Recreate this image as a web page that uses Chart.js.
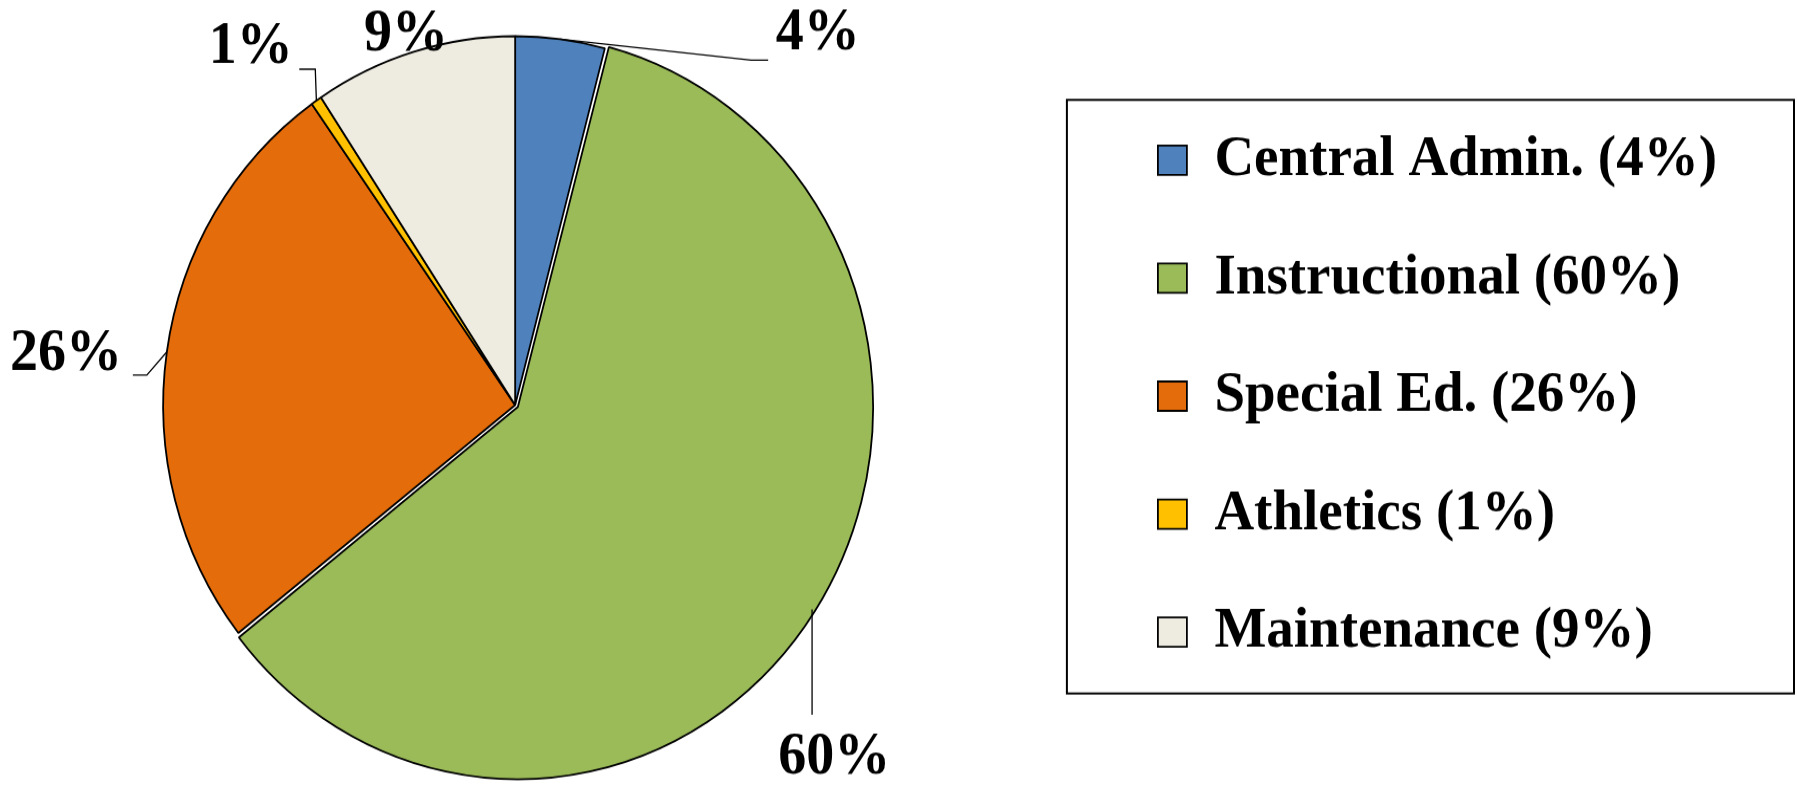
<!DOCTYPE html>
<html lang="en">
<head>
  <meta charset="UTF-8">
  <title>Budget share by category</title>
  <script src="https://cdn.jsdelivr.net/npm/chart.js"></script>
  <style>
    html, body {
      margin: 0;
      padding: 0;
      background: white;
      overflow: hidden;
    }
    body {
      width: 1797px;
      height: 785px;
      position: relative;
    }
    /* the source picture is slightly stretched vertically */
    .wrap {
      position: absolute;
      left: -71px;
      top: 0;
      width: 1868px;
      height: 749px;
      transform: scaleY(1.048);
      transform-origin: 0 0;
    }
  </style>
</head>
<body>
  <div class="wrap">
    <canvas id="pieChart"></canvas>
  </div>

  <script>
    // data
    const categories = ['Central Admin.', 'Instructional', 'Special Ed.', 'Athletics', 'Maintenance'];
    const shares = [4.1, 60.3, 25.8, 0.5, 9.3];
    const pctText = shares.map(v => Math.round(v) + '%');
    const legendText = categories.map((c, i) => c + ' (' + pctText[i] + ')');

    const sliceColors = ['#4F81BD', '#9BBB59', '#E46C0A', '#FFC000', '#EEECE1'];

    // label placement relative to the middle of each slice's outer edge
    const labelLayout = [
      { elbow: [190.8, 19.9], tail: 17, text: [257.3, -5] },
      { elbow: [0, 100.5], tail: 0, text: [22.3, 141.6] },
      { elbow: [-20, 22.1], tail: -14, text: [-100.7, 3] },
      { elbow: [-1.1, -30], tail: -16, text: [-65.6, -50.3] },
      { elbow: null, tail: 0, text: [-7.8, -16] }
    ];

    const labelFont = 'bold 56px "Liberation Serif", "Times New Roman", serif';

    const pieLabels = {
      id: 'pieLabels',
      afterDatasetsDraw(chart) {
        const ctx = chart.ctx;
        const meta = chart.getDatasetMeta(0);
        const offsets = chart.data.datasets[0].offset;
        ctx.save();
        ctx.strokeStyle = '#000';
        ctx.lineWidth = 1.3;
        ctx.fillStyle = '#000';
        ctx.font = labelFont;
        ctx.textAlign = 'center';
        ctx.textBaseline = 'middle';
        meta.data.forEach((arc, i) => {
          const p = arc.getProps(['x', 'y', 'startAngle', 'endAngle', 'outerRadius'], true);
          const mid = (p.startAngle + p.endAngle) / 2;
          // arcs are shifted by a quarter of their offset option
          const r = p.outerRadius + (offsets[i] || 0) / 4;
          const ax = p.x + Math.cos(mid) * r;
          const ay = p.y + Math.sin(mid) * r;
          const lay = labelLayout[i];
          if (lay.elbow) {
            const ex = ax + lay.elbow[0];
            const ey = ay + lay.elbow[1];
            ctx.beginPath();
            ctx.moveTo(ax, ay);
            ctx.lineTo(ex, ey);
            if (lay.tail) ctx.lineTo(ex + lay.tail, ey);
            ctx.stroke();
          }
          ctx.fillText(pctText[i], ax + lay.text[0], ay + lay.text[1]);
        });
        ctx.restore();
      }
    };

    // frame around the legend
    const legendFrame = {
      id: 'legendFrame',
      afterDraw(chart) {
        const hb = chart.legend.legendHitBoxes;
        if (!hb || !hb.length) return;
        const first = hb[0];
        const last = hb[hb.length - 1];
        const ctx = chart.ctx;
        const left = first.left - 91;
        const top = first.top - 30;
        const bottom = last.top + last.height + 31;
        const right = chart.width - 3;
        ctx.save();
        ctx.strokeStyle = '#000';
        ctx.lineWidth = 2;
        ctx.strokeRect(left, top, right - left, bottom - top);
        ctx.restore();
      }
    };

    new Chart(document.getElementById('pieChart'), {
      type: 'pie',
      data: {
        labels: legendText,
        datasets: [{
          data: shares,
          backgroundColor: sliceColors,
          borderColor: '#000',
          borderWidth: 1.8,
          offset: [0, 13, 0, 0, 0],
          hoverOffset: 0,
          radius: 352
        }]
      },
      options: {
        responsive: true,
        maintainAspectRatio: false,
        animation: false,
        events: [],
        layout: {
          padding: { left: 1, right: 70, top: 20, bottom: 13 }
        },
        plugins: {
          tooltip: { enabled: false },
          title: {
            display: true,
            text: '',
            padding: 0,
            font: { size: 17, lineHeight: 1 }
          },
          legend: {
            position: 'right',
            align: 'center',
            labels: {
              color: '#000',
              boxWidth: 29,
              boxHeight: 28,
              padding: 57.6,
              font: { family: '"Liberation Serif", "Times New Roman", serif', size: 55, weight: 'bold' }
            }
          }
        }
      },
      plugins: [pieLabels, legendFrame]
    });
  </script>
</body>
</html>
